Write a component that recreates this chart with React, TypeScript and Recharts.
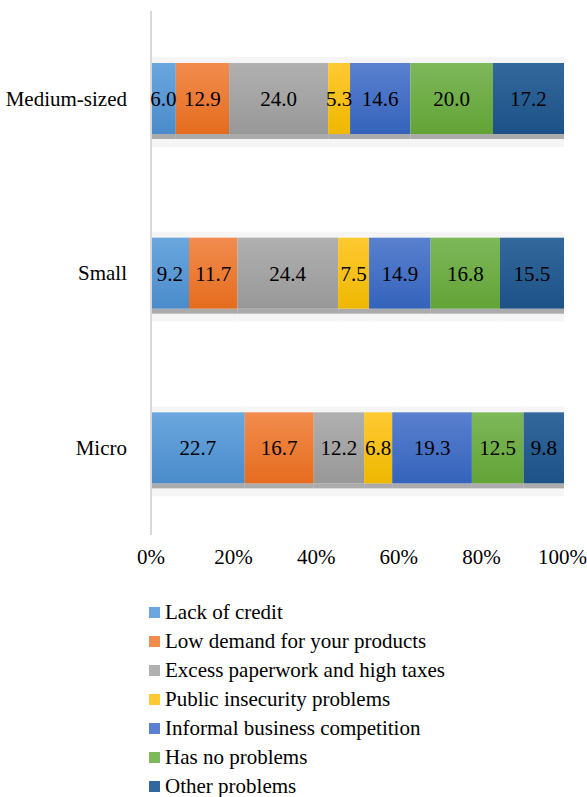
import { BarChart, Bar, XAxis, YAxis, LabelList } from "recharts";

const categories = ["Medium-sized", "Small", "Micro"];
const seriesNames = [
  "Lack of credit",
  "Low demand for your products",
  "Excess paperwork and high taxes",
  "Public insecurity problems",
  "Informal business competition",
  "Has no problems",
  "Other problems",
];
const seriesValues = [
  [6.0, 9.2, 22.7],
  [12.9, 11.7, 16.7],
  [24.0, 24.4, 12.2],
  [5.3, 7.5, 6.8],
  [14.6, 14.9, 19.3],
  [20.0, 16.8, 12.5],
  [17.2, 15.5, 9.8],
];
const xTicks = [0, 20, 40, 60, 80, 100];

const colors = [
  ["#6aa7de", "#4a8bcb"],
  ["#f28c4e", "#e56c1e"],
  ["#b0b0b0", "#989898"],
  ["#ffc933", "#eeb800"],
  ["#5a80cf", "#3463bb"],
  ["#7db85a", "#63a336"],
  ["#32689c", "#1d5288"],
];

const data = categories.map((name, i) => {
  const row: Record<string, string | number> = { name };
  seriesNames.forEach((s, j) => {
    row[s] = seriesValues[j][i];
  });
  return row;
});

const font = "'Times New Roman', 'Liberation Serif', serif";
const fs = 21;

// bar segment with the soft grey shadow under it
const ShadowBar = (props: any) => {
  const { x, y, width, height, fill } = props;
  return (
    <g>
      <rect x={x} y={y - 6} width={width} height={height + 19} fill="#000" opacity={0.04} />
      <rect x={x} y={y + height} width={width} height={5} fill="#999" opacity={0.8} />
      <rect x={x} y={y} width={width} height={height} fill={fill} />
    </g>
  );
};

export default function App() {
  return (
    <div style={{ position: "absolute", left: 0, top: 0, width: 587, height: 797, background: "#fff" }}>
      <BarChart
        width={587}
        height={797}
        data={data}
        layout="vertical"
        margin={{ top: 11, right: 23, left: 0, bottom: 232 }}
        barCategoryGap={52}
      >
        <defs>
          {colors.map((c, i) => (
            <linearGradient key={i} id={`g${i}`} x1="0" y1="0" x2="0" y2="1">
              <stop offset="0%" stopColor={c[0]} />
              <stop offset="100%" stopColor={c[1]} />
            </linearGradient>
          ))}
        </defs>
        <XAxis
          type="number"
          domain={[0, 100]}
          ticks={xTicks}
          tickFormatter={(v) => `${v}%`}
          axisLine={false}
          tickLine={false}
          tickMargin={8}
          height={30}
          tick={{ fill: "#000", fontSize: fs, fontFamily: font }}
        />
        <YAxis
          type="category"
          dataKey="name"
          width={151}
          axisLine={{ stroke: "#d9d9d9", strokeWidth: 2 }}
          tickLine={false}
          tickMargin={18}
          tick={{ fill: "#000", fontSize: fs, fontFamily: font }}
        />
        {seriesNames.map((s, i) => (
          <Bar
            key={s}
            dataKey={s}
            stackId="a"
            fill={`url(#g${i})`}
            shape={<ShadowBar />}
            isAnimationActive={false}
          >
            <LabelList
              dataKey={s}
              position="center"
              formatter={(v: any) => Number(v).toFixed(1)}
              style={{ fill: "#000", fontSize: fs, fontFamily: font }}
            />
          </Bar>
        ))}
      </BarChart>
      <div
        style={{
          position: "absolute",
          left: 149,
          top: 598,
          fontFamily: font,
          fontSize: fs,
          color: "#000",
        }}
      >
        {seriesNames.map((s, i) => (
          <div key={s} style={{ display: "flex", alignItems: "center", height: 29 }}>
            <span
              style={{
                display: "inline-block",
                width: 11,
                height: 11,
                background: colors[i][0],
                marginRight: 5,
              }}
            />
            <span>{s}</span>
          </div>
        ))}
      </div>
    </div>
  );
}
